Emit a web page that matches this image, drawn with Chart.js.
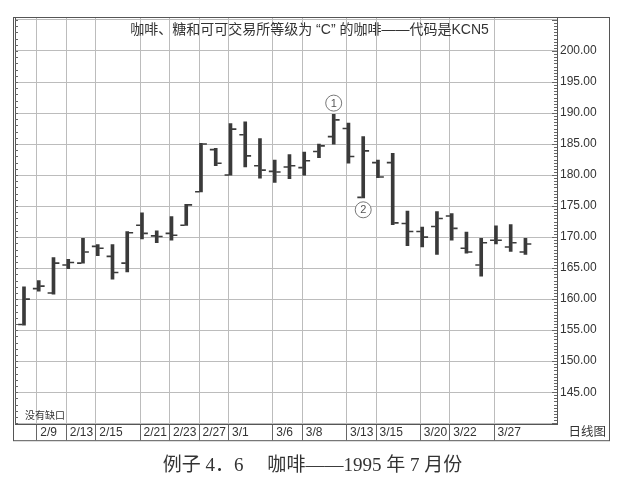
<!DOCTYPE html>
<html><head><meta charset="utf-8">
<script src="https://cdn.jsdelivr.net/npm/chart.js@4.4.0/dist/chart.umd.min.js"></script>
<style>html,body{margin:0;padding:0;background:#fff}canvas{display:block}</style>
</head><body>
<canvas id="c" width="625" height="493"></canvas>
<script>
const dates = ['2/8','2/9','2/10','2/13','2/14','2/15','2/16','2/17','2/21','2/22','2/23','2/24','2/27','2/28',
  '3/1','3/2','3/3','3/6','3/7','3/8','3/9','3/10','3/13','3/14','3/15','3/16','3/17','3/20','3/21','3/22','3/23','3/24','3/27','3/28','3/29'];
const labeledDates = ['2/9','2/13','2/15','2/21','2/23','2/27','3/1','3/6','3/8','3/13','3/15','3/20','3/22','3/27'];
const highs  = [162.0,163.0,166.7,166.4,169.8,168.8,168.8,170.9,173.9,171.0,173.3,175.3,185.1,184.3,188.3,188.6,185.9,182.4,183.3,183.7,185.0,189.8,188.4,186.2,182.4,183.5,174.2,171.6,174.1,173.8,170.8,169.8,171.8,172.0,169.8];
const lows   = [155.8,161.3,160.8,164.9,165.8,167.0,163.2,164.4,169.7,169.1,169.5,171.9,177.3,181.5,180.0,181.3,179.5,178.8,179.4,180.0,182.8,185.0,181.9,176.3,179.6,172.0,168.6,168.4,167.2,169.5,167.4,163.7,168.9,167.7,167.2];
const opens  = [155.9,161.7,161.0,165.5,165.8,168.5,166.9,165.8,171.9,170.2,170.6,171.9,177.3,184.1,180.0,186.5,181.5,180.6,181.3,181.2,183.8,186.2,187.5,176.4,182.0,182.0,172.2,170.9,171.7,173.4,168.2,165.5,169.5,168.4,167.6];
const closes = [160.0,162.1,165.8,165.9,167.6,168.2,164.3,170.7,170.6,170.1,170.3,175.2,185.0,181.9,187.4,183.1,180.8,180.5,181.5,182.3,184.7,188.9,183.0,183.9,179.7,172.3,170.9,170.0,173.0,171.4,167.6,169.1,169.5,169.1,168.9];
const yGridValues = [140,145,150,155,160,165,170,175,180,185,190,195,200,205];
const yLabelValues = [145,150,155,160,165,170,175,180,185,190,195,200];
const markers = [{text:'1', date:'3/10', value:191.6},{text:'2', date:'3/14', value:174.4}];
const chartTitle = '咖啡、糖和可可交易所等级为 “C” 的咖啡——代码是KCN5';
const caption = '例子 4．6　 咖啡——1995 年 7 月份';
const cornerNote = '没有缺口';
const axisNote = '日线图';

const INK = '#3a3a3a';
const GRID = '#bcbcbc';
const TICK_OFF = 0.25;
const sansCJK = "'Liberation Sans','Noto Sans CJK SC',sans-serif";

const framePlugin = {
  id: 'frame',
  afterDraw(chart) {
    const {ctx, chartArea: a, scales: {x, y}} = chart;
    ctx.save();
    ctx.strokeStyle = '#555'; ctx.lineWidth = 1;
    const right = y.right, bottom = x.bottom;
    ctx.strokeRect(a.left - 1.5, a.top + 0.5, right - a.left + 1, bottom - a.top);
    ctx.beginPath(); ctx.moveTo(a.left + 0.5, a.top); ctx.lineTo(a.left + 0.5, a.bottom); ctx.stroke();
    ctx.strokeStyle = '#666';
    ctx.beginPath();
    for (let v = Math.ceil(y.min * 2) / 2; v <= y.max; v += 0.5) {
      const py = Math.round(y.getPixelForValue(v)) + 0.5;
      const len = (v % 5 === 0) ? 5 : 3;
      ctx.moveTo(a.right - len, py); ctx.lineTo(a.right, py);
      if (Number.isInteger(v)) { ctx.moveTo(a.left, py); ctx.lineTo(a.left + 3, py); }
    }
    ctx.stroke();
    ctx.fillStyle = '#333';
    ctx.font = "14px " + sansCJK;
    ctx.textAlign = 'center'; ctx.textBaseline = 'middle';
    ctx.fillText(chartTitle, chart.width / 2 - 3, a.top + 13);
    ctx.font = "10px " + sansCJK;
    ctx.textAlign = 'left';
    ctx.fillText(cornerNote, a.left + 10, a.bottom - 8);
    ctx.font = "12.5px " + sansCJK;
    ctx.textAlign = 'right';
    ctx.fillText(axisNote, right - 4, (x.top + x.bottom) / 2);
    ctx.font = "11px " + sansCJK;
    ctx.textAlign = 'center';
    markers.forEach(m => {
      const px = x.getPixelForValue(dates.indexOf(m.date));
      const py = y.getPixelForValue(m.value);
      ctx.fillStyle = '#fff';
      ctx.beginPath(); ctx.arc(px, py, 8, 0, Math.PI * 2); ctx.fill();
      ctx.strokeStyle = '#777'; ctx.stroke();
      ctx.fillStyle = '#555';
      ctx.fillText(m.text, px, py + 0.5);
    });
    ctx.restore();
  }
};

new Chart(document.getElementById('c'), {
  type: 'bar',
  data: {
    datasets: [
      { type: 'bar', data: dates.map((d, i) => ({x: i, y: [lows[i], highs[i]]})),
        backgroundColor: INK, borderWidth: 0, barThickness: 3, order: 2 },
      { type: 'scatter', data: dates.map((d, i) => ({x: i - TICK_OFF, y: opens[i]})),
        pointStyle: 'line', radius: 2.2, borderWidth: 1.6, borderColor: INK, order: 1 },
      { type: 'scatter', data: dates.map((d, i) => ({x: i + TICK_OFF, y: closes[i]})),
        pointStyle: 'line', radius: 2.2, borderWidth: 1.6, borderColor: INK, order: 1 }
    ]
  },
  options: {
    responsive: false, animation: false, devicePixelRatio: 1,
    layout: { padding: { left: 15, top: 17, right: 15, bottom: 6 } },
    plugins: {
      legend: { display: false }, tooltip: { enabled: false },
      title: { display: true, position: 'bottom', text: caption, color: '#333',
        font: { family: "'Liberation Serif','DejaVu Serif','Noto Sans CJK SC',serif", size: 19, weight: 'normal' },
        padding: { top: 14, bottom: 10 } }
    },
    scales: {
      x: {
        type: 'linear', min: -0.61, max: 36.14, position: 'bottom', offset: false,
        afterBuildTicks: s => { s.ticks = labeledDates.map(d => ({ value: dates.indexOf(d) - 0.12 })); },
        afterFit: s => { s.height = 16; },
        ticks: { align: 'start', padding: -15, maxRotation: 0, autoSkip: false, color: '#333',
          font: { family: "'Liberation Sans',sans-serif", size: 12 },
          callback: v => ' ' + dates[Math.round(v)] },
        grid: { offset: false, color: GRID, borderDash: [1, 3], drawTicks: true, tickLength: 16,
          tickColor: '#666', tickBorderDash: [], tickWidth: 1 },
        border: { display: true, color: '#555' }
      },
      y: {
        type: 'linear', position: 'right', min: 139.84, max: 205.48,
        afterBuildTicks: s => { s.ticks = yGridValues.map(v => ({ value: v })); },
        afterFit: s => { s.width = 53; },
        ticks: { padding: 3, color: '#333', font: { family: "'Liberation Sans',sans-serif", size: 12 },
          callback: v => yLabelValues.includes(v) ? v.toFixed(2) : '' },
        grid: { color: GRID, borderDash: [1, 3], drawTicks: false },
        border: { display: true, color: '#555' }
      }
    }
  },
  plugins: [framePlugin]
});
</script>
</body></html>
